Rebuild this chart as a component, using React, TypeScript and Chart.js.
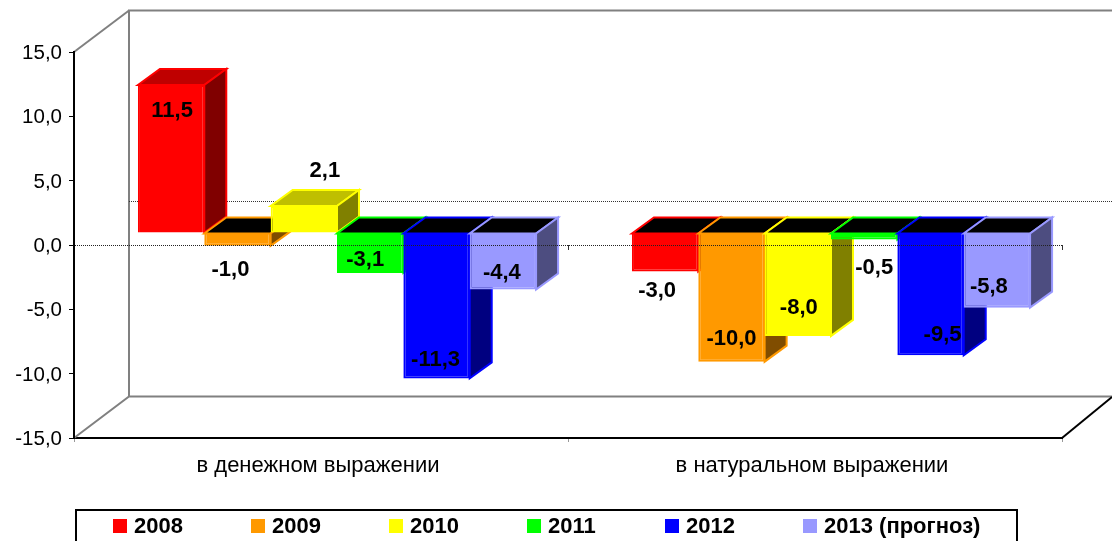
import React, { useEffect, useRef } from "react";
import { Chart, registerables } from "chart.js";

Chart.register(...registerables);

const categories = ["в денежном выражении", "в натуральном выражении"];
const seriesNames = ["2008", "2009", "2010", "2011", "2012", "2013 (прогноз)"];
const values2008 = [11.5, -3.0];
const values2009 = [-1.0, -10.0];
const values2010 = [2.1, -8.0];
const values2011 = [-3.1, -0.5];
const values2012 = [-11.3, -9.5];
const values2013 = [-4.4, -5.8];
const colors = ["#FF0000", "#FF9900", "#FFFF00", "#00FF00", "#0000FF", "#9999FF"];

// hand-placed data label offsets (from the end of each drawn bar)
const labelOffsets2008 = [[1, 24], [-8, 18]];
const labelOffsets2009 = [[-7, 23], [0, -24]];
const labelOffsets2010 = [[21, -37], [1, -29]];
const labelOffsets2011 = [[-5, -14], [10, 27]];
const labelOffsets2012 = [[-1, -20], [12, -22]];
const labelOffsets2013 = [[-1, -18], [-8, -22]];
const labelOffsets = [labelOffsets2008, labelOffsets2009, labelOffsets2010, labelOffsets2011, labelOffsets2012, labelOffsets2013];
const allValues = [values2008, values2009, values2010, values2011, values2012, values2013];

const FONT = '"Liberation Sans", Arial, sans-serif';
const SHIFT = { x: 16, y: -12 };
const DEPTH = { x: 22, y: -16 };
const WALL = { x: 55, y: -41.5 };
const fmt = (v: number) => v.toFixed(1).replace(".", ",");

function shade(hex: string, k: number) {
  const n = parseInt(hex.slice(1), 16);
  const c = [(n >> 16) & 255, (n >> 8) & 255, n & 255].map((v) => Math.round(v * k));
  return `rgb(${c[0]},${c[1]},${c[2]})`;
}

function poly(ctx: CanvasRenderingContext2D, pts: number[][], fill: string | null, stroke: string | null, lw = 1) {
  ctx.beginPath();
  pts.forEach((p, i) => (i ? ctx.lineTo(p[0], p[1]) : ctx.moveTo(p[0], p[1])));
  if (fill) {
    ctx.closePath();
    ctx.fillStyle = fill;
    ctx.fill();
  }
  if (stroke) {
    ctx.strokeStyle = stroke;
    ctx.lineWidth = lw;
    ctx.stroke();
  }
}

const bars3d = {
  id: "bars3d",
  beforeDatasetsDraw(chart: any) {
    const { ctx, chartArea: a } = chart;
    const y0 = chart.scales.y.getPixelForValue(0);
    ctx.save();
    // walls and floor
    poly(ctx, [[a.left + WALL.x, a.bottom + WALL.y], [a.left + WALL.x, a.top + WALL.y], [1112, a.top + WALL.y]], null, "#808080", 2);
    poly(ctx, [[a.left, a.top], [a.left + WALL.x, a.top + WALL.y]], null, "#808080", 2);
    poly(ctx, [[a.left, a.bottom], [a.left + WALL.x, a.bottom + WALL.y], [1112, a.bottom + WALL.y]], null, "#808080", 2);
    poly(ctx, [[a.right, a.bottom], [a.right + 50, a.bottom - 41]], null, "#000000", 2);
    // back wall zero line
    ctx.setLineDash([1, 1]);
    poly(ctx, [[a.left + WALL.x, y0 - 44 + 0.5], [1112, y0 - 44 + 0.5]], null, "#333333", 1);
    ctx.setLineDash([]);

    // bars, left to right, each with its depth faces
    chart.data.datasets.forEach((ds: any, i: number) => {
      const meta = chart.getDatasetMeta(i);
      ctx.save();
      ctx.translate(SHIFT.x, SHIFT.y);
      meta.data.forEach((bar: any, j: number) => {
        const c = colors[i];
        const left = bar.x - bar.width / 2;
        const right = bar.x + bar.width / 2;
        const top = Math.min(bar.y, bar.base);
        const bottom = Math.max(bar.y, bar.base);
        const d = DEPTH;
        poly(ctx, [[left, top], [left + d.x, top + d.y], [right + d.x, top + d.y], [right, top]],
          ds.data[j] < 0 ? "#000000" : shade(c, 0.75), c, 2);
        poly(ctx, [[right, top], [right + d.x, top + d.y], [right + d.x, bottom + d.y], [right, bottom]],
          shade(c, 0.5), c, 2);
      });
      meta.controller.draw();
      ctx.restore();
    });
    ctx.restore();
  },
  beforeDatasetDraw() {
    return false; // already drawn above, in the wanted order
  },
  afterDraw(chart: any) {
    const { ctx, chartArea: a } = chart;
    const y0 = chart.scales.y.getPixelForValue(0);
    ctx.save();
    // tick marks of the category axis, which crosses at zero
    ctx.strokeStyle = "#333333";
    ctx.lineWidth = 1;
    [(a.left + a.right) / 2, a.right].forEach((x) => {
      ctx.beginPath();
      ctx.moveTo(Math.round(x) + 0.5, y0);
      ctx.lineTo(Math.round(x) + 0.5, y0 + 5);
      ctx.stroke();
    });
    // data labels
    ctx.font = `bold 22px ${FONT}`;
    ctx.fillStyle = "#000000";
    ctx.textAlign = "center";
    ctx.textBaseline = "middle";
    allValues.forEach((vals, i) => {
      const meta = chart.getDatasetMeta(i);
      vals.forEach((v, j) => {
        const bar = meta.data[j];
        const o = labelOffsets[i][j];
        ctx.fillText(fmt(v), bar.x + SHIFT.x + o[0], bar.y + SHIFT.y + o[1] + 1.5);
      });
    });
    // legend
    const boxLeft = a.left + 2;
    const boxRight = 1017;
    const boxTop = 510;
    ctx.strokeStyle = "#000000";
    ctx.lineWidth = 2;
    ctx.beginPath();
    ctx.moveTo(boxLeft, 545);
    ctx.lineTo(boxLeft, boxTop);
    ctx.lineTo(boxRight, boxTop);
    ctx.lineTo(boxRight, 545);
    ctx.stroke();
    ctx.font = `bold 22px ${FONT}`;
    ctx.textAlign = "left";
    seriesNames.forEach((name, i) => {
      const x = 113 + i * 138;
      ctx.fillStyle = colors[i];
      ctx.fillRect(x, 519, 14, 14);
      ctx.fillStyle = "#000000";
      ctx.fillText(name, x + 21, 527);
    });
    ctx.restore();
  },
};

export default function App() {
  const ref = useRef<HTMLCanvasElement>(null);
  useEffect(() => {
    const chart = new Chart(ref.current!, {
      type: "bar",
      data: {
        labels: categories,
        datasets: seriesNames.map((name, i) => ({
          label: name,
          data: allValues[i],
          backgroundColor: colors[i],
          borderColor: colors[i],
          borderWidth: 2,
        })),
      },
      options: {
        animation: false,
        responsive: false,
        events: [],
        layout: { padding: { top: 52, left: 0, right: 50, bottom: 0 } },
        datasets: { bar: { categoryPercentage: 0.806, barPercentage: 1 } },
        plugins: { legend: { display: false }, tooltip: { enabled: false }, title: { display: false } },
        scales: {
          x: {
            afterFit: (s: any) => { s.height = 103; },
            border: { color: "#000000", width: 2 },
            grid: { color: "transparent", tickColor: "#999999", tickLength: 4 },
            ticks: { color: "#000000", font: { family: FONT, size: 22 }, padding: 11, labelOffset: -3, maxRotation: 0 },
          },
          y: {
            min: -15,
            max: 15,
            afterFit: (s: any) => { s.width = 74; },
            border: { color: "#000000", width: 2, dash: [1, 1], z: 1 },
            grid: {
              z: 1,
              lineWidth: 1,
              tickLength: 5,
              tickColor: "#000000",
              color: (c: any) => (c.tick && c.tick.value === 0 ? "#222222" : "transparent"),
            },
            ticks: {
              stepSize: 5,
              color: "#000000",
              padding: 7,
              labelOffset: 1.5,
              font: { family: FONT, size: 20.5 },
              callback: (v: any) => fmt(Number(v)),
            },
          },
        },
      } as any,
      plugins: [bars3d as any],
    });
    return () => chart.destroy();
  }, []);
  return (
    <div style={{ position: "absolute", left: 0, top: 0, width: 1112, height: 541, overflow: "hidden", background: "#fff" }}>
      <canvas ref={ref} width={1112} height={541} style={{ display: "block" }} />
    </div>
  );
}
